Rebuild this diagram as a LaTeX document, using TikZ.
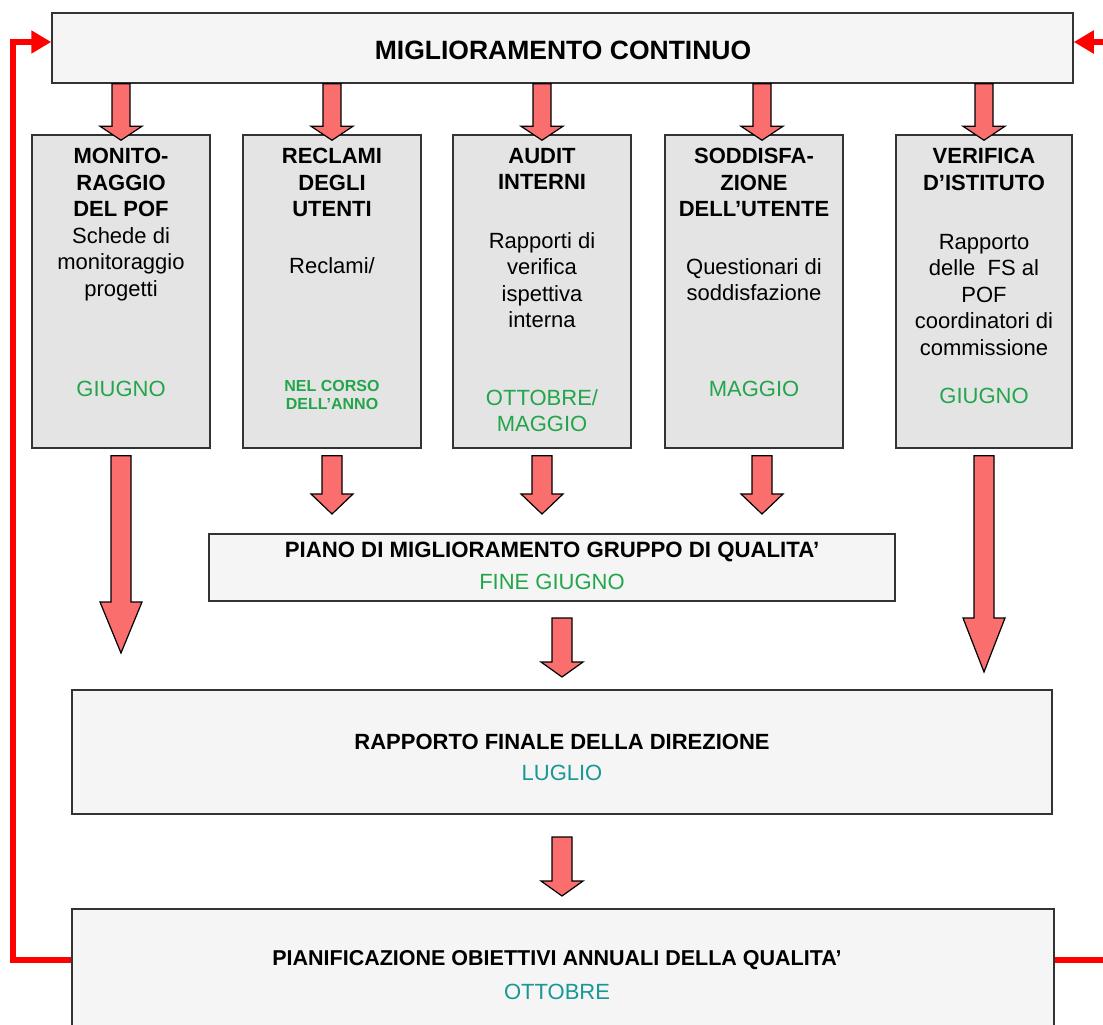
\documentclass[tikz,border=0pt]{standalone}
\usepackage{fontspec}
\setmainfont{Liberation Sans}
\usetikzlibrary{calc,arrows.meta}
\definecolor{mgreen}{RGB}{35,165,75}
\definecolor{mteal}{RGB}{25,150,150}
\definecolor{colfill}{RGB}{228,228,228}
\definecolor{widefill}{RGB}{245,245,245}
\definecolor{arrfill}{RGB}{250,110,110}
\newcommand\blkarrow[5]{%
  \draw[blockarr] let \p1=(#1), \p2=(#2) in
   (\x1-#3pt,\y1) -- (\x1+#3pt,\y1) -- (\x1+#3pt,\y2+#5pt) -- (\x1+#4pt,\y2+#5pt)
   -- (\x1,\y2) -- (\x1-#4pt,\y2+#5pt) -- (\x1-#3pt,\y2+#5pt) -- cycle;}
\tikzset{
  colbox/.style={draw=black!80, line width=1.5pt, fill=colfill, inner sep=0pt, minimum width=178pt, minimum height=313pt},
  widebox/.style={draw=black!80, line width=1.5pt, fill=widefill, inner sep=0pt},
  hd/.style={font=\fontsize{22}{26.5}\selectfont\bfseries, align=center, inner sep=0pt, anchor=north},
  tx/.style={font=\fontsize{22}{26.5}\selectfont, align=center, inner sep=0pt, anchor=north},
  mon/.style={tx, text=mgreen},
  blockarr/.style={fill=arrfill, draw=black, line width=1.2pt, line join=miter},
  fb/.style={draw=red, line width=6pt, line join=miter},
}
\begin{document}
\begin{tikzpicture}[x=1pt,y=-1pt]
\useasboundingbox (0,0) rectangle (1103,1025);

% boxes
\node[widebox, minimum width=1021pt, minimum height=70pt] (top) at (562.5,48) {};
\node[colbox] (b1) at (121,291.5) {};
\node[colbox] (b2) at (332,291.5) {};
\node[colbox] (b3) at (542,291.5) {};
\node[colbox] (b4) at (754,291.5) {};
\node[colbox, minimum width=176pt] (b5) at (984,291.5) {};
\node[widebox, minimum width=686pt, minimum height=67pt] (piano) at (552,567.5) {};
\node[widebox, minimum width=980pt, minimum height=124pt] (rap) at (562,752) {};
\node[widebox, minimum width=982pt, minimum height=122pt] (pian) at (563,970) {};

% texts
\node[font=\fontsize{26.5}{30}\selectfont\bfseries, inner sep=0pt] (ttop) at (563,50) {MIGLIORAMENTO CONTINUO};

\node[hd] (h1) at (121,148) {MONITO-\\RAGGIO\\DEL POF};
\node[tx] (d1) at (121,227) {Schede di\\monitoraggio\\progetti};
\node[mon] (m1) at (121,381) {GIUGNO};

\node[hd] (h2) at (332,148) {RECLAMI\\DEGLI\\UTENTI};
\node[tx] (d2) at (332,257) {Reclami/};
\node[tx, text=mgreen, font=\fontsize{16}{18.5}\selectfont\bfseries] (m2) at (332,380) {NEL CORSO\\DELL’ANNO};

\node[hd] (h3) at (542,148) {AUDIT\\INTERNI};
\node[tx] (d3) at (542,232) {Rapporti di\\verifica\\ispettiva\\interna};
\node[mon] (m3) at (542,389) {OTTOBRE/\\MAGGIO};

\node[hd] (h4) at (754,148) {SODDISFA-\\ZIONE\\DELL’UTENTE};
\node[tx] (d4) at (754,258) {Questionari di\\soddisfazione};
\node[mon] (m4) at (754,381) {MAGGIO};

\node[hd] (h5) at (984,148) {VERIFICA\\D’ISTITUTO};
\node[tx] (d5) at (984,234) {Rapporto\\delle~ FS al\\POF\\coordinatori di\\commissione};
\node[mon] (m5) at (984,388) {GIUGNO};

\node[font=\fontsize{22.2}{26}\selectfont\bfseries, inner sep=0pt] (tpiano) at (552,552) {PIANO DI MIGLIORAMENTO GRUPPO DI QUALITA’};
\node[font=\fontsize{22}{26}\selectfont, text=mgreen, inner sep=0pt] (mpiano) at (552,582) {FINE GIUGNO};
\node[font=\fontsize{22}{26}\selectfont\bfseries, inner sep=0pt] (trap) at (562,742) {RAPPORTO FINALE DELLA DIREZIONE};
\node[font=\fontsize{22}{26}\selectfont, text=mteal, inner sep=0pt] (mrap) at (562,773) {LUGLIO};
\node[font=\fontsize{21.5}{26}\selectfont\bfseries, inner sep=0pt] (tpian) at (557,960) {PIANIFICAZIONE OBIETTIVI ANNUALI DELLA QUALITA’};
\node[font=\fontsize{22}{26}\selectfont, text=mteal, inner sep=0pt] (mpian) at (557,992) {OTTOBRE};

% coordinates
\coordinate (a1end) at (121,653);
\coordinate (a2end) at (332,514);
\coordinate (a3end) at (542,514);
\coordinate (a4end) at (762,514);
\coordinate (a5end) at (984,672);
\coordinate (a6start) at (562,618);
\coordinate (a6end) at (562,677);
\coordinate (a7start) at (562,837);
\coordinate (a7end) at (562,896);
\coordinate (lc1) at (13,960);
\coordinate (lc2) at (13,42);
\coordinate (rtop) at (1103,42);
\coordinate (rbot) at (1103,960);

% block arrows from top box
\blkarrow{b1.north |- top.south}{[yshift=-6pt]b1.north}{9}{21}{14}
\blkarrow{b2.north |- top.south}{[yshift=-6pt]b2.north}{9}{21}{14}
\blkarrow{b3.north |- top.south}{[yshift=-6pt]b3.north}{9}{21}{14}
\blkarrow{[xshift=8pt]b4.north |- top.south}{[xshift=8pt,yshift=-6pt]b4.north}{9}{21}{14}
\blkarrow{b5.north |- top.south}{[yshift=-6pt]b5.north}{9}{21}{14}

% block arrows from columns
\blkarrow{[yshift=-7pt]b1.south}{a1end}{10}{21}{51}
\blkarrow{[yshift=-7pt]b2.south}{a2end}{10}{21}{20}
\blkarrow{[yshift=-7pt]b3.south}{a3end}{10}{21}{20}
\blkarrow{[xshift=8pt,yshift=-7pt]b4.south}{a4end}{10}{21}{20}
\blkarrow{[yshift=-7pt]b5.south}{a5end}{10}{21}{54}
\blkarrow{a6start}{a6end}{10}{21}{15}
\blkarrow{a7start}{a7end}{10}{21}{15}

% feedback lines
\draw[fb, -{Triangle[length=20pt,width=22pt]}] ([yshift=10pt]pian.west) -- (lc1) -- (lc2) -- ([yshift=6pt]top.west);
\draw[fb, -{Triangle[length=20pt,width=22pt]}] (rtop) -- ([yshift=6pt]top.east);
\draw[fb] ([yshift=10pt]pian.east) -- (rbot);
\end{tikzpicture}
\end{document}
